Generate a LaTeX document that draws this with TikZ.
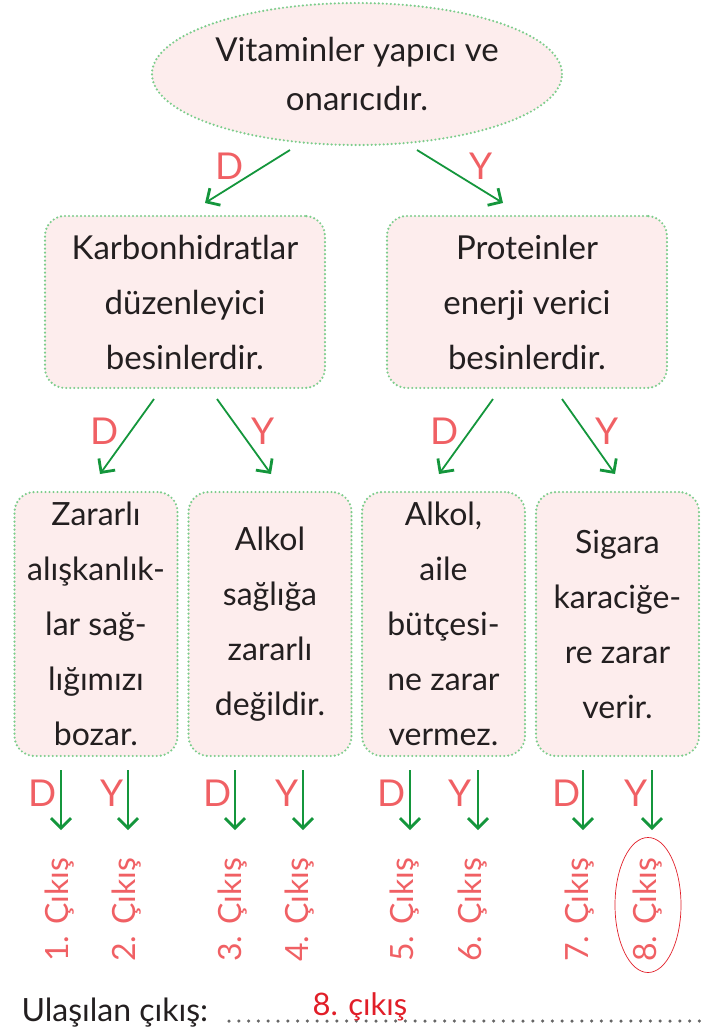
\documentclass[tikz,border=0pt]{standalone}
\usepackage{fontspec}
\setmainfont{Lato}
\usetikzlibrary{shapes.geometric}
\usetikzlibrary{arrows.meta}
\usetikzlibrary{positioning}
\definecolor{pinkfill}{RGB}{253,237,237}
\definecolor{dotgreen}{RGB}{125,205,140}
\definecolor{arrowgreen}{RGB}{20,150,60}
\definecolor{labelred}{RGB}{240,96,100}
\definecolor{answerred}{RGB}{225,30,40}
\definecolor{inkblack}{RGB}{35,31,32}

\begin{document}
\begin{tikzpicture}[x=1pt,y=-1pt,
	dotted_border/.style={draw=dotgreen,fill=pinkfill,line width=2.4pt,dash pattern=on 0pt off 4pt,line cap=round},
	root_node/.style={dotted_border,ellipse,minimum width=400pt,minimum height=142pt,align=center,text=inkblack,font=\fontsize{33}{49}\selectfont},
	mid_node/.style={dotted_border,rounded corners=20pt,minimum width=280pt,minimum height=172pt,align=center,text=inkblack,font=\fontsize{33}{55}\selectfont},
	leaf_node/.style={dotted_border,rounded corners=20pt,minimum width=163pt,minimum height=264pt,inner sep=2pt,align=center,text=inkblack,font=\fontsize{32}{55}\selectfont},
	dy_label/.style={text=labelred,font=\fontsize{37}{40}\selectfont},
	out_label/.style={text=labelred,rotate=90,font=\fontsize{32}{36}\selectfont},
	dy_arrow/.style={draw=arrowgreen,line width=1.8pt,-{Straight Barb[length=10pt,width=20pt,line width=2.8pt]}}]

	\useasboundingbox (0,0) rectangle (704,1029);

	\node[root_node] (0) at (357,74) {Vitaminler yapıcı ve\\onarıcıdır.};

	\node[mid_node] (1) at (185,302) {Karbonhidratlar\\düzenleyici\\besinlerdir.};
	\node[mid_node] (2) at (527,302) {Proteinler\\enerji verici\\besinlerdir.};

	\node[leaf_node] (a) at (96,624) {Zararlı\\alışkanlık-\\lar sağ-\\lığımızı\\bozar.};
	\node[leaf_node] (b) at (270,624) {Alkol\\sağlığa\\zararlı\\değildir.};
	\node[leaf_node] (c) at (443.5,624) {Alkol,\\aile\\bütçesi-\\ne zarar\\vermez.};
	\node[leaf_node] (d) at (617.5,624) {Sigara\\karaciğe-\\re zarar\\verir.};

	% arrow ends
	\coordinate (0D) at (290,150);  \coordinate (1top) at (205,203);
	\coordinate (0Y) at (417,150);  \coordinate (2top) at (503,203);
	\coordinate (1D) at (154,399);  \coordinate (atop) at (100,474);
	\coordinate (1Y) at (217,399);  \coordinate (btop) at (271,474);
	\coordinate (2D) at (493,399);  \coordinate (ctop) at (439,474);
	\coordinate (2Y) at (562,399);  \coordinate (dtop) at (615,474);

	\node[dy_label] (lD0) at (230,166) {D};
	\node[dy_label] (lY0) at (481,166) {Y};
	\node[dy_label] (lD1) at (105,431) {D};
	\node[dy_label] (lY1) at (263,431) {Y};
	\node[dy_label] (lD2) at (445,431) {D};
	\node[dy_label] (lY2) at (607,431) {Y};

	\draw[dy_arrow] (0D) -- (1top);
	\draw[dy_arrow] (0Y) -- (2top);
	\draw[dy_arrow] (1D) -- (atop);
	\draw[dy_arrow] (1Y) -- (btop);
	\draw[dy_arrow] (2D) -- (ctop);
	\draw[dy_arrow] (2Y) -- (dtop);

	% exits
	\foreach \i/\ax/\lx/\ox/\l in {1/61/43/60/D,2/128/112/127/Y,3/235/218/233/D,4/303/287/300/Y,5/410/392/405/D,6/478/460/473/Y,7/583/567/580/D,8/652/636/648/Y}{
		\coordinate (s\i) at (\ax,770);
		\coordinate (e\i) at (\ax,830);
		\node[dy_label] (l\i) at (\lx,793) {\l};
		\draw[dy_arrow] (s\i) -- (e\i);
		\node[out_label] (o\i) at (\ox,910) {\i. Çıkış};
	}

	\node[draw=answerred,ellipse,line width=0.7pt,minimum width=66pt,minimum height=135pt] (ring) at (648,905) {};

	\node[anchor=base west,text=inkblack,font=\fontsize{32}{36}\selectfont] (ul) at (18,1021) {Ulaşılan çıkış:};
	\coordinate (dl) at (229,1021);
	\coordinate (dr) at (702,1021);
	\draw[gray!80!black,line width=3.5pt,dash pattern=on 0pt off 9.8pt,line cap=round] (dl) -- (dr);
	\node[anchor=base west,text=answerred,font=\fontsize{31}{36}\selectfont] (ans) at (309,1015) {8. çıkış};
\end{tikzpicture}
\end{document}
